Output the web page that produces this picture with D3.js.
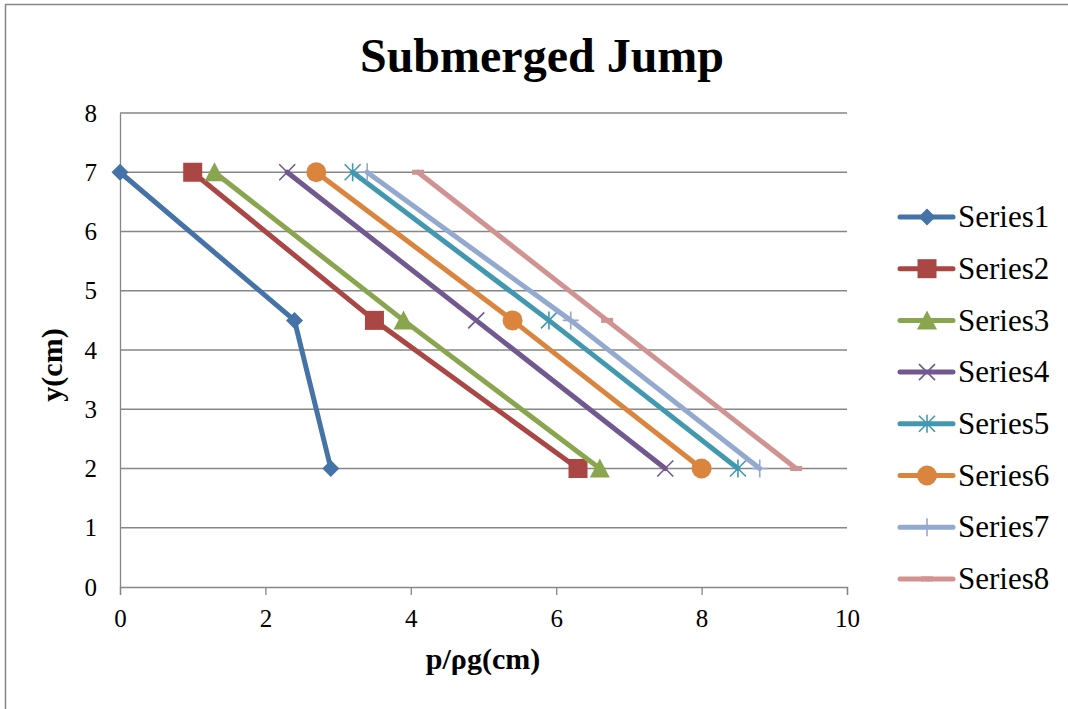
<!DOCTYPE html>
<html>
<head>
<meta charset="utf-8">
<script src="https://cdn.jsdelivr.net/npm/d3@7"></script>
<style>
	body { margin: 0; background: #fff; }
</style>
</head>
<body>
<div id="chart"></div>
<script>
const seriesNames = ['Series1', 'Series2', 'Series3', 'Series4', 'Series5', 'Series6', 'Series7', 'Series8'];
const yLevels = [7, 4.5, 2];
const series1 = [0, 2.4, 2.9];
const series2 = [1.0, 3.5, 6.3];
const series3 = [1.3, 3.9, 6.6];
const series4 = [2.3, 4.9, 7.5];
const series5 = [3.2, 5.9, 8.5];
const series6 = [2.7, 5.4, 8.0];
const series7 = [3.4, 6.2, 8.8];
const series8 = [4.1, 6.7, 9.3];
const xTicks = [0, 2, 4, 6, 8, 10];
const yTicks = [0, 1, 2, 3, 4, 5, 6, 7, 8];

const colors = ['#4572A7', '#AA4643', '#89A54E', '#71588F', '#4198AF', '#DB843D', '#93A9CF', '#D19392'];
const markers = ['diamond', 'square', 'triangle', 'cross', 'star', 'circle', 'plus', 'dash'];

const width = 1068, height = 709;
const plot = {left: 120, right: 847, top: 113, bottom: 587};

// pick a Times-like font that is really installed
const _pickFont = (candidates) => {
	const ctx = document.createElement('canvas').getContext('2d');
	const sample = 'Submerged Jump 0123456789 Series';
	ctx.font = '40px monospace';
	const base = ctx.measureText(sample).width;
	for (const f of candidates) {
		ctx.font = `40px "${f}", monospace`;
		if (Math.abs(ctx.measureText(sample).width - base) > 0.5) return `"${f}", serif`;
	}
	return 'serif';
};
const FONT = _pickFont(['Liberation Serif', 'Times New Roman', 'Tinos', 'Times', 'Nimbus Roman', 'DejaVu Serif']);

const allX = [series1, series2, series3, series4, series5, series6, series7, series8];
const data = seriesNames.map((name, i) => ({
	name,
	color: colors[i],
	marker: markers[i],
	points: allX[i].map((x, j) => ({x, y: yLevels[j]}))
}));

const svg = d3.select('#chart').append('svg')
	.attr('width', width)
	.attr('height', height)
	.style('font-family', FONT);

svg.append('rect')
	.attr('x', 5.5).attr('y', 4.5)
	.attr('width', 1070).attr('height', 720)
	.attr('fill', '#fff')
	.attr('stroke', '#868686')
	.attr('stroke-width', 1.5);

const xScale = d3.scaleLinear().domain([0, 10]).range([plot.left, plot.right]);
const yScale = d3.scaleLinear().domain([0, 8]).range([plot.bottom, plot.top]);

// gridlines
svg.append('g')
	.selectAll('line')
	.data(yTicks.filter(t => t > 0))
	.enter()
	.append('line')
		.attr('x1', plot.left).attr('x2', plot.right)
		.attr('y1', d => yScale(d)).attr('y2', d => yScale(d))
		.attr('stroke', '#868686')
		.attr('stroke-width', 1.3);

const styleTicks = (axis) => {
	axis.select('.domain').attr('stroke', '#868686').attr('stroke-width', 1.3);
	axis.selectAll('.tick line').attr('stroke', '#868686').attr('stroke-width', 1.3);
	axis.selectAll('.tick text')
		.style('font-family', FONT)
		.style('font-size', '25px')
		.style('fill', '#000');
};

// x axis
const xAxis = svg.append('g')
	.attr('transform', `translate(0, ${plot.bottom})`)
	.call(d3.axisBottom(xScale).tickValues(xTicks).tickSize(8).tickPadding(14));
styleTicks(xAxis);

// y axis
const yAxis = svg.append('g')
	.attr('transform', `translate(${plot.left}, 0)`)
	.call(d3.axisLeft(yScale).tickValues(yTicks).tickSize(0).tickPadding(23));
styleTicks(yAxis);

// titles
svg.append('text')
	.attr('x', 542).attr('y', 72)
	.attr('text-anchor', 'middle')
	.attr('font-size', 48).attr('font-weight', 'bold')
	.text('Submerged Jump');

svg.append('text')
	.attr('x', 483).attr('y', 669)
	.attr('text-anchor', 'middle')
	.attr('font-size', 30).attr('font-weight', 'bold')
	.text('p/ρg(cm)');

svg.append('text')
	.attr('transform', `translate(62, 365) rotate(-90)`)
	.attr('text-anchor', 'middle')
	.attr('font-size', 30).attr('font-weight', 'bold')
	.text('y(cm)');

// markers
const drawMarker = (g, type, color) => {
	const thin = p => g.append('path').attr('d', p).attr('stroke', color).attr('stroke-width', 1.6).attr('fill', 'none');
	switch (type) {
		case 'diamond':
			g.append('path').attr('d', 'M0,-8.5L8.5,0L0,8.5L-8.5,0Z').attr('fill', color);
			break;
		case 'square':
			g.append('rect').attr('x', -9.5).attr('y', -9.5).attr('width', 19).attr('height', 19).attr('fill', color);
			break;
		case 'triangle':
			g.append('path').attr('d', 'M0,-10L10,9L-10,9Z').attr('fill', color);
			break;
		case 'circle':
			g.append('circle').attr('r', 10).attr('fill', color);
			break;
		case 'cross':
			thin('M-8,-8L8,8M-8,8L8,-8');
			break;
		case 'star':
			thin('M-8,-8L8,8M-8,8L8,-8M0,-9L0,9');
			break;
		case 'plus':
			thin('M0,-9L0,9M-8,0L8,0');
			break;
		case 'vbar':
			thin('M0,-9L0,9');
			break;
		case 'dash':
			g.append('rect').attr('x', -6).attr('y', -2.5).attr('width', 12).attr('height', 5).attr('fill', color);
			break;
	}
};

const line = d3.line()
	.x(d => xScale(d.x))
	.y(d => yScale(d.y));

const seriesG = svg.selectAll('.series')
	.data(data)
	.enter()
	.append('g')
	.attr('class', 'series');

seriesG.append('path')
	.attr('d', d => line(d.points))
	.attr('fill', 'none')
	.attr('stroke', d => d.color)
	.attr('stroke-width', 5)
	.attr('stroke-linejoin', 'round')
	.attr('stroke-linecap', 'round');

seriesG.each(function (d) {
	d3.select(this).selectAll('.pt')
		.data(d.points)
		.enter()
		.append('g')
		.attr('class', 'pt')
		.attr('transform', p => `translate(${xScale(p.x)}, ${yScale(p.y)})`)
		.each(function () { drawMarker(d3.select(this), d.marker, d.color); });
});

// legend
const legendItems = svg.append('g').selectAll('.legend-item')
	.data(data)
	.enter()
	.append('g')
	.attr('class', 'legend-item')
	.attr('transform', (d, i) => `translate(900, ${217 + i * 51.7})`);

legendItems.append('line')
	.attr('x1', 0).attr('x2', 53)
	.attr('stroke', d => d.color)
	.attr('stroke-width', 5)
	.attr('stroke-linecap', 'round');

legendItems.each(function (d) {
	const g = d3.select(this).append('g').attr('transform', 'translate(27, 0)');
	drawMarker(g, d.marker === 'plus' ? 'vbar' : d.marker, d.color);
});

legendItems.append('text')
	.attr('x', 58)
	.attr('dy', '0.33em')
	.attr('font-size', 31)
	.text(d => d.name);
</script>
</body>
</html>
